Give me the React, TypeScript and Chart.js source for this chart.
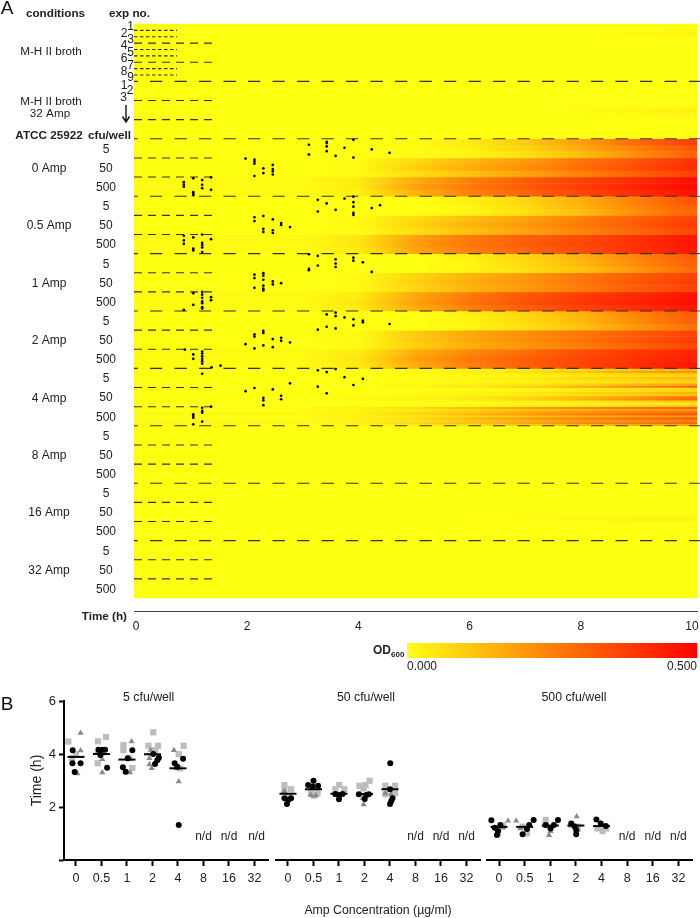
import React, { useEffect, useRef } from "react";
import Chart from "chart.js/auto";

const FONT = '"Liberation Sans", Arial, sans-serif';
const INK = "#222222";

/* ---------- Panel A data ---------- */
const timeTicks = [0, 2, 4, 6, 8, 10];
const odKnotTimes = [3, 4, 5, 6, 7, 8, 9, 10];
const densityLabels = ["5", "50", "500"];
const conditionLabels = ["0 Amp", "0.5 Amp", "1 Amp", "2 Amp", "4 Amp", "8 Amp", "16 Amp", "32 Amp"];
const expNumbers = ["1", "2", "3", "4", "5", "6", "7", "8", "9"];

const amp0 = [
  [[0,0,.005,.04,.10,.19,.29,.37],[0,0,.005,.03,.08,.16,.25,.33],[0,0,.005,.02,.06,.13,.22,.31]],
  [[0,.01,.07,.14,.20,.27,.34,.40],[0,.01,.09,.16,.22,.28,.35,.41],[0,.01,.06,.12,.18,.25,.31,.37]],
  [[.01,.04,.16,.25,.32,.37,.42,.47],[.01,.04,.18,.26,.32,.38,.43,.48],[.01,.03,.15,.24,.30,.36,.41,.46]],
];
const amp05 = [
  [[0,0,0,.03,.08,.16,.25,.34],[0,0,0,.02,.07,.15,.24,.32],[0,0,0,.02,.06,.13,.22,.30]],
  [[0,.01,.07,.13,.18,.25,.31,.37],[0,.01,.08,.15,.20,.26,.32,.38],[0,.01,.06,.12,.18,.24,.30,.36]],
  [[.01,.05,.18,.26,.31,.35,.40,.45],[.01,.05,.19,.27,.32,.36,.41,.46],[.01,.04,.17,.25,.30,.35,.40,.45]],
];
const amp1 = [
  [[0,0,0,.03,.08,.15,.24,.32],[0,0,0,.02,.07,.14,.23,.31],[0,0,0,.02,.06,.12,.20,.29]],
  [[0,.01,.08,.15,.20,.26,.32,.37],[0,.01,.09,.16,.21,.27,.33,.38],[0,.01,.08,.15,.20,.26,.32,.37]],
  [[.01,.04,.17,.26,.33,.38,.42,.46],[.01,.05,.18,.27,.34,.39,.43,.47],[.01,.04,.16,.25,.32,.37,.41,.45]],
];
const amp2 = [
  [[0,0,0,.03,.08,.15,.24,.32],[0,0,0,.02,.07,.14,.23,.31],[0,0,0,.02,.06,.12,.20,.28]],
  [[0,.01,.10,.17,.22,.27,.32,.37],[0,.01,.10,.17,.22,.27,.33,.38],[0,.01,.09,.16,.21,.26,.31,.36]],
  [[.01,.04,.16,.24,.29,.35,.39,.43],[.01,.05,.18,.26,.31,.36,.40,.44],[.01,.04,.16,.25,.31,.36,.41,.45]],
];
const amp4 = [
  [[0,0,.01,.02,.04,.08,.11,.15],[0,0,.01,.03,.06,.11,.17,.22],[0,0,.01,.02,.03,.06,.09,.12],[0,0,0,.01,.02,.04,.06,.08],[0,0,.01,.02,.04,.08,.11,.15],[0,0,.01,.01,.03,.05,.08,.10],[0,0,0,.01,.02,.04,.06,.08],[0,0,.01,.03,.05,.09,.14,.18],[0,.01,.02,.05,.09,.16,.24,.32]],
  [[0,0,0,.01,.02,.04,.06,.08],[0,0,0,.01,.02,.04,.06,.08],[0,0,.01,.02,.04,.08,.11,.15],[0,0,.01,.02,.03,.06,.09,.12],[0,.01,.02,.04,.08,.14,.21,.28],[0,.01,.02,.04,.08,.15,.22,.30],[0,0,.01,.01,.03,.05,.08,.10],[0,0,0,.01,.01,.02,.03,.04],[0,0,.01,.01,.03,.05,.08,.10]],
  [[.01,.03,.07,.13,.19,.24,.28,.32],[0,.02,.04,.08,.12,.15,.18,.20],[.01,.03,.06,.11,.16,.21,.25,.28],[.01,.03,.07,.13,.19,.25,.29,.33],[0,.02,.04,.08,.12,.15,.18,.20],[.01,.03,.07,.14,.20,.26,.30,.34],[.01,.03,.06,.10,.15,.19,.22,.25],[.01,.03,.07,.12,.17,.23,.26,.30],[0,.02,.04,.07,.10,.14,.16,.18]],
];
const faintFlat = [[0,0,0,0,0,0,0,0]];
const mhBroth = [[[0,0,0,0,0,0,0,0],[0,0,0,0,0,0,.01,.02],[0,0,0,0,0,0,0,0]], faintFlat, faintFlat];
const mhBroth32 = [faintFlat, [[0,0,0,0,0,0,0,0],[0,0,0,0,0,.005,.015,.025],[0,0,0,0,0,0,.005,.01]], faintFlat];
const amp8 = [faintFlat, faintFlat, faintFlat];
const amp16 = [faintFlat, [[0,0,0,0,0,0,0,0],[0,0,0,0,0,0,0,0],[0,0,0,0,.005,.01,.02,.02]], faintFlat];
const amp32 = [faintFlat, faintFlat, faintFlat];
const heatBlocks = [mhBroth, mhBroth32, amp0, amp05, amp1, amp2, amp4, amp8, amp16, amp32];

/* growth onset per well: [hours, well position within its 9-well band] */
const onset0_5 = [[3.11,2.8],[3.11,7.4],[3.43,1.4],[3.43,2.0],[3.43,3.6],[3.43,5.8],[3.59,8.0],[3.75,4.2],[3.91,.5],[3.91,8.8],[4.24,5.0],[4.56,6.6]];
const onset0_50 = [[1.97,.3],[2.13,.8],[2.13,1.7],[2.13,2.7],[2.13,8.5],[2.29,4.9],[2.29,7.1],[2.46,3.3],[2.46,5.2],[2.46,6.3],[2.46,7.8]];
const onset0_500 = [[.86,2.4],[.86,3.5],[.86,4.5],[1.03,.6],[1.03,7.1],[1.03,7.8],[1.03,8.5],[1.19,1.4],[1.19,3.6],[1.19,5.2],[1.35,.1],[1.35,6.0]];
const onset05_5 = [[3.27,1.7],[3.27,7.2],[3.43,3.4],[3.59,6.4],[3.75,1.1],[3.91,.2],[3.91,2.8],[3.91,4.9],[3.91,7.8],[3.91,8.8],[4.24,5.6],[4.39,4.2]];
const onset05_50 = [[2.13,.9],[2.13,2.7],[2.29,.3],[2.29,6.4],[2.29,7.8],[2.46,1.9],[2.46,7.0],[2.46,8.3],[2.61,3.6],[2.61,4.5],[2.77,5.5]];
const onset05_500 = [[.86,.6],[.86,2.8],[.86,4.4],[1.03,1.4],[1.03,6.7],[1.03,7.5],[1.19,0],[1.19,3.9],[1.19,4.9],[1.19,6.1],[1.19,8.3],[1.35,2.2]];
const onset1_5 = [[3.11,.3],[3.27,1.1],[3.27,5.6],[3.11,7.2],[3.11,7.8],[3.59,2.7],[3.59,4.7],[3.59,6.3],[3.91,1.9],[3.91,3.3],[4.08,4.1],[4.24,8.6]];
const onset1_50 = [[2.13,.9],[2.13,2.5],[2.13,7.1],[2.29,.2],[2.29,1.4],[2.29,3.3],[2.29,6.1],[2.29,7.5],[2.29,8.3],[2.46,4.1],[2.46,5.5],[2.61,4.9]];
const onset1_500 = [[1.03,.6],[1.03,6.1],[.86,8.5],[1.19,0],[1.19,1.3],[1.19,2.8],[1.19,4.5],[1.19,5.3],[1.19,7.2],[1.19,7.8],[1.35,2.5],[1.35,3.9]];
const onset2_5 = [[3.43,1.6],[3.59,.8],[3.59,2.4],[3.75,3.0],[3.91,3.9],[3.91,6.8],[4.08,4.5],[4.08,5.3],[4.56,6.1],[3.27,8.8],[3.43,7.4],[3.59,8.2]];
const onset2_50 = [[2.13,2],[2.13,3],[2.29,.3],[2.29,1.3],[2.46,4.2],[2.61,3.6],[2.61,5],[2.77,5.8],[1.97,6.6],[2.13,8.6],[2.29,7.2],[2.46,8]];
const onset2_500 = [[.88,.2],[1.03,2.4],[1.03,4.5],[1.19,1.1],[1.19,2],[1.19,3.3],[1.19,4.5],[1.19,5.6],[1.19,6.7],[1.36,8.5],[1.52,7.7]];
const onset4_5 = [[3.27,.9],[3.43,1.7],[3.59,.3],[3.75,4.1],[4.08,4.9],[3.91,7.8],[3.27,8.6],[2.77,7.0],[1.19,2.5]];
const onset4_50 = [[1.97,1.7],[2.13,.2],[2.46,.9],[3.43,2.7],[2.29,4.9],[2.29,6],[2.29,8.3],[2.61,3.9],[2.61,5.5]];
const onset4_500 = [[1.19,.5],[1.19,2],[1.19,2.8],[1.03,3.6],[1.03,4.4],[1.03,5.2],[1.19,7],[1.03,8.3],[1.35,0]];
const onsetBlocks = [
  [2, [onset0_5, onset0_50, onset0_500]],
  [3, [onset05_5, onset05_50, onset05_500]],
  [4, [onset1_5, onset1_50, onset1_500]],
  [5, [onset2_5, onset2_50, onset2_500]],
  [6, [onset4_5, onset4_50, onset4_500]],
];

/* ---------- Panel B data ---------- */
const concLabels = ["0", "0.5", "1", "2", "4", "8", "16", "32"];
const notDetected = [5, 6, 7];
const panelTitles = ["5 cfu/well", "50 cfu/well", "500 cfu/well"];

const cfu5Squares = [[-.30,4.47],[0,3.99],[-.15,3.85],[.86,4.48],[1.18,4.64],[.85,3.65],[1,4.03],[1.86,4.34],[1.86,4.15],[2.21,3.47],[2.09,3.84],[3.03,4.82],[2.84,4.31],[3.22,4.31],[3.11,4.15],[4.22,4.31],[4.03,3.99],[4.08,3.46]];
const cfu5Triangles = [[.18,4.79],[.18,4.13],[.05,3.27],[1.03,3.8],[1.03,3.3],[.85,4.09],[2.18,4.47],[1.94,3.3],[2.12,3.3],[2.88,3.84],[2.88,3.61],[2.97,3.46],[2.93,4.15],[3.84,4.14],[4.03,2.96],[3.95,3.46]];
const cfu5Circles = [[-.13,4.14],[-.14,3.65],[.18,3.65],[-.05,3.32],[.88,4.16],[1.14,4.16],[.96,3.96],[1.22,3.48],[1.03,4.16],[2.21,4.14],[1.84,3.5],[1.95,3.33],[2.03,3.84],[3.03,4],[3.25,3.86],[3.19,3.76],[3.1,3.62],[4.2,3.82],[3.87,3.65],[3.97,3.52],[4.03,1.32]];
const cfu5Medians = [3.89, 4.0, 3.79, 3.99, 3.46];

const cfu50Squares = [[-.14,2.83],[.12,2.67],[-.14,2.67],[0,2.39],[.9,2.52],[1.16,2.52],[1,2.43],[1.86,2.67],[2.21,2.67],[2.01,2.83],[2.8,2.8],[3.2,2.99],[3.04,2.83],[2.96,2.7],[3.82,2.8],[4.2,2.8],[3.82,2.48],[4.2,2.52]];
const cfu50Triangles = [[-.14,2.6],[.12,2.33],[1.09,2.43],[1,2.77],[.9,2.45],[2.01,2.39],[1.88,2.45],[2.97,2.1],[2.93,2.33],[3.82,2.52],[4.04,2.48]];
const cfu50Circles = [[-.14,2.33],[.12,2.33],[-.04,2.11],[.01,2.26],[1,2.99],[.79,2.83],[1.18,2.8],[.96,2.77],[1.86,2.49],[2.14,2.49],[2,2.29],[2.01,2.45],[2.78,2.48],[3.17,2.48],[3.01,2.3],[3.07,2.45],[4.01,3.65],[4,2.67],[4.1,2.33],[4,2.11],[4.05,2.23]];
const cfu50Medians = [2.5, 2.67, 2.5, 2.49, 2.67];

const cfu500Squares = [[.15,1.3],[-.04,1.01],[1.09,1.01],[.92,1.26],[1.82,1.51],[1.82,1.32],[2.82,1.32],[3.08,1.26],[4.04,1.09],[3.84,1.19],[4.17,1.19]];
const cfu500Triangles = [[.35,1.48],[.15,1.22],[.67,1.48],[.83,1.19],[1.95,.94],[2.01,1.09],[3.03,1.64],[3.08,1.13],[3.97,1.38]];
const cfu500Circles = [[-.3,1.5],[-.17,1.22],[.05,1.32],[-.08,.94],[-.04,1.09],[1.35,1.51],[1.18,1.32],[.92,.97],[1.09,1.17],[2.3,1.51],[1.82,1.32],[2.01,1.19],[2.14,1.32],[2.82,1.38],[2.95,1.26],[3.01,.97],[3.01,1.13],[3.8,1.53],[3.97,1.38],[4.17,1.28]];
const cfu500Medians = [1.25, 1.25, 1.3, 1.3, 1.28];

const panels = [
  { squares: cfu5Squares, triangles: cfu5Triangles, circles: cfu5Circles, medians: cfu5Medians },
  { squares: cfu50Squares, triangles: cfu50Triangles, circles: cfu50Circles, medians: cfu50Medians },
  { squares: cfu500Squares, triangles: cfu500Triangles, circles: cfu500Circles, medians: cfu500Medians },
];

/* ---------- helpers ---------- */
const OD_MAX = 0.5;
function odColor(od: number) {
  const g = Math.round(255 * (1 - Math.min(od, OD_MAX) / OD_MAX));
  return `rgb(255,${g},${Math.round(18 * (1 - od / OD_MAX))})`;
}
const TIME_MIN = -0.036;
const TIME_MAX = 10.09;

function heatGradient(chart: any, values: number[]) {
  const sx = chart.scales.x;
  const x0 = sx ? sx.getPixelForValue(TIME_MIN) : NaN;
  const x1 = sx ? sx.getPixelForValue(TIME_MAX) : NaN;
  if (!Number.isFinite(x0) || !Number.isFinite(x1)) return odColor(values[0]);
  const g = chart.ctx.createLinearGradient(x0, 0, x1, 0);
  const span = TIME_MAX - TIME_MIN;
  g.addColorStop(0, odColor(values[0]));
  odKnotTimes.forEach((t, i) => g.addColorStop((t - TIME_MIN) / span, odColor(values[i])));
  g.addColorStop(1, odColor(values[values.length - 1]));
  return g;
}

function buildPanelADatasets(rowPx: number) {
  const ds: any[] = [];
  const flat = (y: number, span: number, values: number[]) => ({
    type: "scatter",
    showLine: true,
    data: [{ x: TIME_MIN, y }, { x: TIME_MAX, y }],
    borderWidth: span * rowPx + 0.6,
    borderCapStyle: "butt",
    borderColor: (c: any) => heatGradient(c.chart, values),
    pointRadius: 0,
    order: 3,
  });
  heatBlocks.forEach((block, b) => {
    block.forEach((band, d) => {
      const span = 9 / band.length;
      band.forEach((values, r) => {
        ds.push(flat(b * 27 + d * 9 + (r + 0.5) * span, span, values));
      });
    });
  });
  const dash = (y: number, end: number, pattern: number[], offset: number) => ({
    type: "scatter",
    showLine: true,
    data: [{ x: TIME_MIN, y }, { x: end, y }],
    borderWidth: 1.1,
    borderColor: "#333333",
    borderDash: pattern,
    borderDashOffset: offset,
    pointRadius: 0,
    order: 1,
  });
  for (let k = 1; k <= 9; k++) ds.push(dash(k * 27, TIME_MAX + 0.05, [12.3, 12.2], 8.5));
  for (let k = 0; k < 10; k++) {
    ds.push(dash(k * 27 + 9, 1.367, [8, 6], 0));
    ds.push(dash(k * 27 + 18, 1.367, [8, 6], 0));
  }
  [3, 6, 12, 15, 21, 24].forEach((r) => ds.push(dash(r, 0.737, [3.5, 2.5], 0)));
  const dots: any[] = [];
  (onsetBlocks as any[]).forEach(([b, bands]) => {
    bands.forEach((band: number[][], d: number) => {
      band.forEach(([t, r]) => dots.push({ x: t, y: b * 27 + d * 9 + r }));
    });
  });
  ds.push({
    type: "scatter",
    data: dots,
    pointRadius: 1.35,
    pointBackgroundColor: "#000",
    pointBorderWidth: 0,
    order: 0,
  });
  return ds;
}

function drawText(ctx: any, s: string, x: number, y: number, font: string, align = "center", color = INK) {
  ctx.font = `${font} ${FONT}`;
  ctx.textAlign = align;
  ctx.textBaseline = "middle";
  ctx.fillStyle = color;
  ctx.fillText(s, x, y);
}

const panelAText = {
  id: "panelAText",
  afterDraw(chart: any) {
    const ctx = chart.ctx;
    ctx.save();
    drawText(ctx, "A", 7, 9, "300 19px", "center", "#111");
    drawText(ctx, "conditions", 55.5, 14, "bold 11.7px");
    drawText(ctx, "exp no.", 129.5, 14, "bold 11.7px");
    drawText(ctx, "M-H II broth", 51, 51.5, "11.7px");
    drawText(ctx, "M-H II broth", 51, 101.5, "11.7px");
    drawText(ctx, "32 Amp", 50, 114, "11.7px");
    drawText(ctx, "ATCC 25922", 49, 136, "bold 11.7px");
    drawText(ctx, "cfu/well", 109.5, 136, "bold 11.7px");
    expNumbers.forEach((n, i) => {
      const px = 24 + (i + 0.5) * 6.38;
      drawText(ctx, n, i % 2 === 0 ? 130.5 : 124, px - 0.2, "12px");
    });
    [["1", 124, 86], ["2", 130, 91], ["3", 123.5, 97.7]].forEach(([n, x, y]: any) => drawText(ctx, n, x, y, "12px"));
    const sy = chart.scales.y;
    conditionLabels.forEach((c, i) => {
      drawText(ctx, c, 49, sy.getPixelForValue((i + 2) * 27 + 13.5) + 1.2, "12px");
    });
    ctx.strokeStyle = "#111";
    ctx.lineWidth = 1.4;
    ctx.beginPath();
    ctx.moveTo(126, 105);
    ctx.lineTo(126, 121);
    ctx.moveTo(122.5, 116.5);
    ctx.lineTo(126, 122);
    ctx.lineTo(129.5, 116.5);
    ctx.stroke();
    drawText(ctx, "Time (h)", 127, 617, "bold 11.7px", "right");
    drawText(ctx, "OD", 373, 651, "bold 12px", "left");
    drawText(ctx, "600", 391, 654.5, "bold 8px", "left");
    ctx.restore();
  },
};

function baseScaleFont(size: number) {
  return { family: FONT, size };
}

export default function App() {
  const aRef = useRef<HTMLCanvasElement>(null);
  const barRef = useRef<HTMLCanvasElement>(null);
  const b0 = useRef<HTMLCanvasElement>(null);
  const b1 = useRef<HTMLCanvasElement>(null);
  const b2 = useRef<HTMLCanvasElement>(null);

  useEffect(() => {
    const charts: any[] = [];
    const Y_MAX = 276.1;
    const rowPx = 587 / Y_MAX;
    const yTicks: number[] = [];
    for (let b = 2; b < 10; b++) for (let d = 0; d < 3; d++) yTicks.push(b * 27 + d * 9 + 4.5 + 0.5);
    const fixX = (h: number) => (s: any) => { s.height = h; s.paddingLeft = 0; s.paddingRight = 0; };
    const fixY = (w: number) => (s: any) => { s.width = w; s.paddingTop = 0; s.paddingBottom = 0; };

    charts.push(
      new Chart(aRef.current as any, {
        type: "scatter",
        data: { datasets: buildPanelADatasets(rowPx) as any },
        plugins: [panelAText],
        options: {
          responsive: false,
          animation: false,
          clip: false as any,
          layout: { autoPadding: false, padding: { left: 0, right: 3, top: 24, bottom: 0 } },
          plugins: { legend: { display: false }, tooltip: { enabled: false } },
          elements: { line: { tension: 0 } },
          scales: {
            x: {
              type: "linear",
              min: TIME_MIN,
              max: TIME_MAX,
              grid: { display: false, drawTicks: false },
              border: { display: true, color: "#444", width: 1 },
              afterBuildTicks: (s: any) => { s.ticks = timeTicks.map((value) => ({ value })); },
              afterFit: fixX(69),
              ticks: {
                padding: 8,
                maxRotation: 0,
                autoSkip: false,
                color: INK,
                font: baseScaleFont(12),
                callback: (v: any) => String(v),
              },
            },
            y: {
              type: "linear",
              reverse: true,
              min: 0,
              max: Y_MAX,
              grid: { display: false, drawTicks: false },
              border: { display: false },
              afterBuildTicks: (s: any) => { s.ticks = yTicks.map((value) => ({ value })); },
              afterFit: fixY(134),
              ticks: {
                padding: 18,
                autoSkip: false,
                crossAlign: "center",
                color: INK,
                font: baseScaleFont(12),
                callback: (_v: any, i: number) => densityLabels[i % 3],
              },
            },
          },
        } as any,
      })
    );

    charts.push(
      new Chart(barRef.current as any, {
        type: "bar",
        data: {
          labels: ["OD600"],
          datasets: [
            {
              data: [[0, OD_MAX]],
              barPercentage: 1,
              categoryPercentage: 1,
              backgroundColor: (c: any) => {
                const s = c.chart.scales.x;
                if (!s || !Number.isFinite(s.left) || !Number.isFinite(s.right)) return odColor(0);
                const g = c.chart.ctx.createLinearGradient(s.left, 0, s.right, 0);
                [0, 0.1, 0.2, 0.3, 0.4, 0.5].forEach((od) => g.addColorStop(od / OD_MAX, odColor(od)));
                return g;
              },
            },
          ],
        } as any,
        options: {
          indexAxis: "y",
          responsive: false,
          animation: false,
          layout: { autoPadding: false, padding: { left: 7, right: 3, top: 3, bottom: 0 } },
          plugins: { legend: { display: false }, tooltip: { enabled: false } },
          scales: {
            y: { display: false },
            x: {
              type: "linear",
              min: 0,
              max: OD_MAX,
              grid: { display: false, drawTicks: false },
              border: { display: false },
              afterBuildTicks: (s: any) => { s.ticks = [{ value: 0 }, { value: OD_MAX }]; },
              afterFit: fixX(22),
              ticks: {
                align: "inner",
                padding: 1,
                autoSkip: false,
                maxRotation: 0,
                color: INK,
                font: baseScaleFont(12),
                callback: (v: any) => Number(v).toFixed(3),
              },
            },
          },
        } as any,
      })
    );

    const layouts = [
      { left: 0, right: 4, ref: b0, title: 148.7 - 0 },
      { left: 4, right: 3, ref: b1, title: 366 - 272 },
      { left: 4, right: 8, ref: b2, title: 574 - 483 },
    ];
    layouts.forEach((lay, idx) => {
      const p = panels[idx];
      const pts = (arr: number[][]) => arr.map(([x, y]) => ({ x, y }));
      const panelText = {
        id: "panelText" + idx,
        afterDraw(chart: any) {
          const ctx = chart.ctx;
          ctx.save();
          drawText(ctx, panelTitles[idx], lay.title, 17.5, "12.3px");
          notDetected.forEach((c) => {
            const offset = idx === 0 && c === 7 ? 2 : 0;
            drawText(ctx, "n/d", chart.scales.x.getPixelForValue(c) + offset, chart.scales.y.getPixelForValue(0.88), "12px");
          });
          if (idx === 0) drawText(ctx, "B", 7, 24.5, "300 19px", "center", "#111");
          ctx.restore();
        },
      };
      charts.push(
        new Chart(lay.ref.current as any, {
          type: "scatter",
          data: {
            datasets: [
              { data: p.medians.map((y, i) => ({ x: i, y })), pointStyle: "line", pointRadius: 8.5, pointBorderWidth: 2, pointBorderColor: "#000", order: 0 },
              { data: pts(p.circles), pointStyle: "circle", pointRadius: 3, pointBackgroundColor: "#000", pointBorderWidth: 0, order: 1 },
              { data: pts(p.triangles), pointStyle: "triangle", pointRadius: 3.6, pointBackgroundColor: "#8a8a8a", pointBorderWidth: 0, order: 2 },
              { data: pts(p.squares), pointStyle: "rect", pointRadius: 4.4, pointBackgroundColor: "#bdbdbd", pointBorderWidth: 0, order: 3 },
            ],
          } as any,
          plugins: [panelText],
          options: {
            responsive: false,
            animation: false,
            clip: false as any,
            layout: { autoPadding: false, padding: { left: lay.left, right: lay.right, top: 21, bottom: 0 } },
            plugins: { legend: { display: false }, tooltip: { enabled: false } },
            scales: {
              x: {
                type: "linear",
                min: -0.47,
                max: 7.53,
                grid: { display: true, drawOnChartArea: false, tickLength: 6, tickWidth: 2, tickColor: "#000" },
                border: { display: true, color: "#000", width: 2 },
                afterBuildTicks: (s: any) => { s.ticks = concLabels.map((_, value) => ({ value })); },
                afterFit: fixX(58),
                ticks: {
                  padding: 5,
                  autoSkip: false,
                  maxRotation: 0,
                  color: INK,
                  font: baseScaleFont(12.5),
                  callback: (_v: any, i: number) => concLabels[i],
                },
                title: {
                  display: idx === 1,
                  text: "Amp Concentration (µg/ml)",
                  color: INK,
                  font: baseScaleFont(12.3),
                  padding: { top: 0, bottom: 0 },
                },
              },
              y: {
                display: idx === 0,
                type: "linear",
                min: 0,
                max: 6,
                grid: { display: true, drawOnChartArea: false, tickLength: 5, tickWidth: 2, tickColor: "#000" },
                border: { display: true, color: "#000", width: 2 },
                afterFit: fixY(idx === 0 ? 64 : 0),
                ticks: {
                  stepSize: 2,
                  padding: 3,
                  color: INK,
                  font: baseScaleFont(13),
                  callback: (v: any) => (v === 0 ? "" : String(v)),
                },
                title: {
                  display: idx === 0,
                  text: "Time (h)",
                  color: INK,
                  font: baseScaleFont(14),
                  padding: { top: 29, bottom: 0 },
                },
              },
            },
          },
        } as any)
      );
    });
    return () => charts.forEach((c) => c.destroy());
  }, []);

  const abs = (left: number, top: number): React.CSSProperties => ({ position: "absolute", left, top, display: "block" });
  return (
    <div style={{ position: "absolute", left: 0, top: 0, width: 700, height: 918, background: "#fff", overflow: "hidden" }}>
      <canvas ref={aRef} width={700} height={680} style={abs(0, 0)} />
      <canvas ref={barRef} width={300} height={40} style={abs(400, 640)} />
      <canvas ref={b0} width={272} height={238} style={abs(0, 680)} />
      <canvas ref={b1} width={211} height={238} style={abs(272, 680)} />
      <canvas ref={b2} width={217} height={238} style={abs(483, 680)} />
    </div>
  );
}
